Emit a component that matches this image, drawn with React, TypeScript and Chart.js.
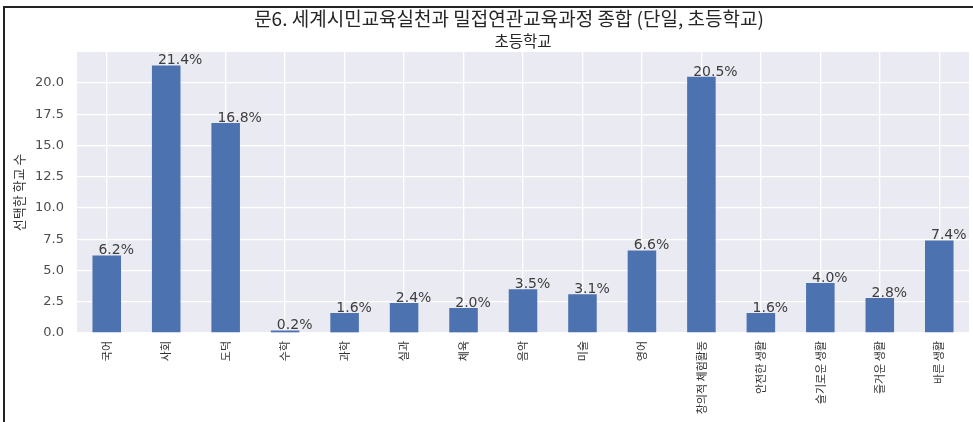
import React, { useEffect, useRef } from 'react';
import { Chart, registerables } from 'chart.js';

Chart.register(...registerables);

const TITLE = '문6. 세계시민교육실천과 밀접연관교육과정 종합 (단일, 초등학교)';
const SUBTITLE = '초등학교';
const Y_LABEL = '선택한 학교 수';

const categories = [
  '국어', '사회', '도덕', '수학', '과학', '실과', '체육', '음악', '미술', '영어',
  '창의적 체험활동', '안전한 생활', '슬기로운 생활', '즐거운 생활', '바른 생활',
];
const values = [6.2, 21.4, 16.8, 0.2, 1.6, 2.4, 2.0, 3.5, 3.1, 6.6, 20.5, 1.6, 4.0, 2.8, 7.4];
const percentLabels = ['6.2%', '21.4%', '16.8%', '0.2%', '1.6%', '2.4%', '2.0%', '3.5%', '3.1%', '6.6%', '20.5%', '1.6%', '4.0%', '2.8%', '7.4%'];
const Y_MAX = 22.47;
const Y_STEP = 2.5;

const KR = '"Noto Sans CJK KR", "Noto Sans", sans-serif';
const NUM = '"DejaVu Sans", sans-serif';

export default function App() {
  const ref = useRef<HTMLCanvasElement>(null);

  useEffect(() => {
    document.body.style.margin = '0';
    const canvas = ref.current;
    if (!canvas) return;

    const decor = {
      id: 'decor',
      beforeDraw(chart: any) {
        const { ctx, chartArea: a } = chart;
        ctx.save();
        ctx.fillStyle = '#ffffff';
        ctx.fillRect(0, 0, chart.width, chart.height);
        ctx.fillStyle = '#EAEAF2';
        ctx.fillRect(a.left, a.top, a.right - a.left, a.bottom - a.top);
        ctx.restore();
      },
      afterDatasetsDraw(chart: any) {
        const { ctx } = chart;
        const meta = chart.getDatasetMeta(0);
        ctx.save();
        ctx.fillStyle = '#3d3d3d';
        ctx.font = `14px ${NUM}`;
        ctx.textAlign = 'left';
        ctx.textBaseline = 'alphabetic';
        meta.data.forEach((el: any, i: number) => {
          const left = el.x - el.width / 2;
          ctx.fillText(percentLabels[i], left + 6, el.y - 1);
        });
        ctx.restore();
      },
      afterDraw(chart: any) {
        const { ctx, chartArea: a } = chart;
        ctx.save();
        // frame (top and left)
        ctx.fillStyle = '#222222';
        ctx.fillRect(3, 6, chart.width - 3, 2);
        ctx.fillRect(3, 6, 2, chart.height - 6);
        // titles
        ctx.fillStyle = '#262626';
        ctx.textAlign = 'center';
        ctx.textBaseline = 'middle';
        ctx.font = `19px ${KR}`;
        ctx.fillText(TITLE, 509, 19);
        ctx.font = `15.5px ${KR}`;
        ctx.fillText(SUBTITLE, (a.left + a.right) / 2, 41);
        // y axis title
        ctx.translate(19, (a.top + a.bottom) / 2);
        ctx.rotate(-Math.PI / 2);
        ctx.font = `13px ${KR}`;
        ctx.fillStyle = '#333333';
        ctx.fillText(Y_LABEL, 0, 0);
        ctx.restore();
      },
    };

    const chart = new Chart(canvas, {
      type: 'bar',
      data: {
        labels: categories,
        datasets: [
          {
            data: values,
            backgroundColor: '#4C72B0',
            borderWidth: 0,
            barPercentage: 0.48,
            categoryPercentage: 1,
          },
        ],
      },
      options: {
        animation: false,
        responsive: false,
        devicePixelRatio: 1,
        layout: { padding: { top: 52, right: 4, left: 0, bottom: 0 } },
        plugins: {
          legend: { display: false },
          tooltip: { enabled: false },
          title: { display: false },
        },
        scales: {
          x: {
            offset: true,
            grid: { color: '#ffffff', lineWidth: 1.3, offset: false, drawTicks: false },
            border: { display: false },
            ticks: {
              autoSkip: false,
              maxRotation: 90,
              minRotation: 90,
              padding: 8,
              color: '#333333',
              font: { family: KR, size: 11 },
            },
            afterFit(scale: any) {
              scale.height = 89;
            },
          },
          y: {
            min: 0,
            max: Y_MAX,
            grid: { color: '#ffffff', lineWidth: 1.3, drawTicks: false },
            border: { display: false },
            ticks: {
              stepSize: Y_STEP,
              padding: 13,
              color: '#4d4d4d',
              font: { family: NUM, size: 13 },
              callback: (v: any) => Number(v).toFixed(1),
            },
            afterBuildTicks(scale: any) {
              scale.ticks = scale.ticks.filter(
                (t: any) => Math.abs(t.value / Y_STEP - Math.round(t.value / Y_STEP)) < 1e-6
              );
            },
            afterFit(scale: any) {
              scale.width = 77;
            },
          },
        },
      },
      plugins: [decor],
    } as any);

    return () => chart.destroy();
  }, []);

  return (
    <div style={{ width: 973, height: 422 }}>
      <canvas ref={ref} width={973} height={422} style={{ display: 'block', width: 973, height: 422 }} />
    </div>
  );
}
